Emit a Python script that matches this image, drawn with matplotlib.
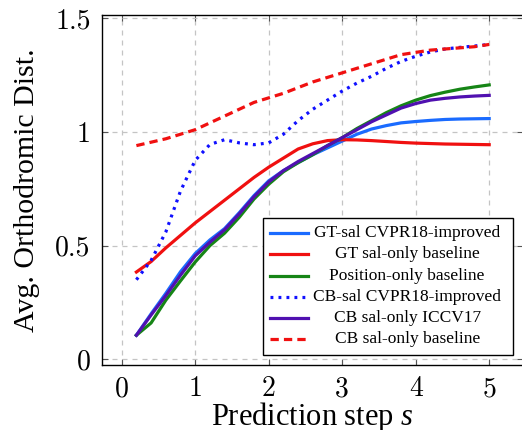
"""Avg. orthodromic distance vs. prediction step for several saliency /
position baselines (pgfplots-style line chart)."""
import matplotlib

matplotlib.use("Agg")
import matplotlib.pyplot as plt
from matplotlib.lines import Line2D
from matplotlib.patches import Rectangle

# prediction steps (seconds)
steps = [0.2, 0.4, 0.6, 0.8, 1.0, 1.2, 1.4, 1.6, 1.8, 2.0, 2.2, 2.4, 2.6,
         2.8, 3.0, 3.2, 3.4, 3.6, 3.8, 4.0, 4.2, 4.4, 4.6, 4.8, 5.0]

gt_sal_cvpr18 = [0.106, 0.20, 0.29, 0.385, 0.465, 0.525, 0.575, 0.645, 0.72,
                 0.785, 0.83, 0.865, 0.90, 0.93, 0.96, 0.99, 1.013, 1.028,
                 1.04, 1.046, 1.051, 1.055, 1.057, 1.058, 1.059]
gt_sal_only = [0.384, 0.43, 0.49, 0.545, 0.60, 0.65, 0.70, 0.75, 0.80, 0.845,
               0.885, 0.925, 0.948, 0.962, 0.966, 0.965, 0.962, 0.958, 0.954,
               0.951, 0.949, 0.947, 0.946, 0.945, 0.944]
position_only = [0.106, 0.16, 0.26, 0.345, 0.428, 0.50, 0.555, 0.625, 0.705,
                 0.77, 0.825, 0.865, 0.90, 0.94, 0.975, 1.015, 1.05, 1.085,
                 1.115, 1.14, 1.16, 1.175, 1.188, 1.198, 1.207]
cb_sal_cvpr18 = [0.35, 0.435, 0.56, 0.74, 0.875, 0.945, 0.966, 0.952, 0.944,
                 0.952, 0.99, 1.05, 1.10, 1.14, 1.18, 1.215, 1.245, 1.28,
                 1.31, 1.333, 1.352, 1.365, 1.372, 1.378, 1.385]
cb_sal_iccv17 = [0.106, 0.195, 0.28, 0.37, 0.455, 0.515, 0.57, 0.64, 0.715,
                 0.78, 0.83, 0.87, 0.905, 0.94, 0.975, 1.01, 1.045, 1.075,
                 1.105, 1.125, 1.14, 1.148, 1.154, 1.158, 1.161]
cb_sal_only = [0.94, 0.955, 0.97, 0.99, 1.01, 1.04, 1.07, 1.10, 1.13, 1.15,
               1.17, 1.195, 1.22, 1.24, 1.26, 1.28, 1.30, 1.32, 1.34, 1.35,
               1.36, 1.365, 1.37, 1.375, 1.385]

labels = ["GT-sal CVPR18-improved", "GT sal-only baseline",
          "Position-only baseline", "CB-sal CVPR18-improved",
          "CB sal-only ICCV17", "CB sal-only baseline"]
x_ticks = [0, 1, 2, 3, 4, 5]
y_ticks = [0, 0.5, 1, 1.5]
y_tick_labels = ["0", "0.5", "1", "1.5"]

series = [gt_sal_cvpr18, gt_sal_only, position_only,
          cb_sal_cvpr18, cb_sal_iccv17, cb_sal_only]
colors = ["#1a6bff", "#f01010", "#168516", "#1010ff", "#5010b0", "#f01010"]
styles = ["-", "-", "-", (0, (0.9, 1.6)), "-", (0, (2.6, 1.6))]

SERIF = "Liberation Serif"
plt.rcParams["font.family"] = "cmr10"
plt.rcParams["mathtext.fontset"] = "custom"
plt.rcParams["mathtext.rm"] = SERIF
plt.rcParams["mathtext.it"] = SERIF + ":italic"
plt.rcParams["axes.unicode_minus"] = False

fig = plt.figure(figsize=(5.22, 4.30), dpi=100)
ax = fig.add_axes([101.7 / 522, 65 / 430, (523 - 101.7) / 522, 350 / 430])

for vals, c, ls in zip(series, colors, styles):
    ax.plot(steps, vals, color=c, linestyle=ls, lw=2.3, zorder=3)

ax.set_xlim(-0.272, 5.46)
ax.set_ylim(-0.025, 1.5145)
ax.set_xticks(x_ticks)
ax.set_xticklabels([str(t) for t in x_ticks])
ax.set_yticks(y_ticks)
ax.set_yticklabels(y_tick_labels)
ax.grid(True, color="#c4c4c4", linestyle=(0, (4, 4)), lw=0.9)
ax.tick_params(direction="in", length=4, width=0.8, labelsize=20,
               top=True, right=True, color="#555555")
ax.tick_params(axis="x", pad=8)
ax.tick_params(axis="y", pad=8)
for sp in ax.spines.values():
    sp.set_linewidth(1.0)

ax.set_xlabel("Prediction step $s$", fontsize=22, family=SERIF)
ax.set_ylabel("Avg. Orthodromic Dist.", fontsize=21.5, family=SERIF)
ax.xaxis.label.set_va("baseline")
ax.xaxis.set_label_coords(0.499, -0.172)
ax.yaxis.label.set_va("center")
ax.yaxis.set_label_coords(-0.177, 0.499)

# legend box drawn by hand so entries can be centred like pgfplots
box = Rectangle((0.382, 0.0286), 0.5935, 0.3904, transform=ax.transAxes,
                facecolor="white", edgecolor="black", lw=1.0, zorder=5)
ax.add_patch(box)
row_y = [0.378, 0.317, 0.254, 0.195, 0.133, 0.073]
for lab, c, ls, yy in zip(labels, colors, styles, row_y):
    ax.add_line(Line2D([0.4005, 0.489], [yy, yy], transform=ax.transAxes,
                       color=c, linestyle=ls, lw=2.3, zorder=6))
    ax.text(0.725, yy, lab, transform=ax.transAxes, ha="center",
            va="center", fontsize=12.5, family=SERIF, zorder=6)

fig.savefig("out.png", dpi=100)
